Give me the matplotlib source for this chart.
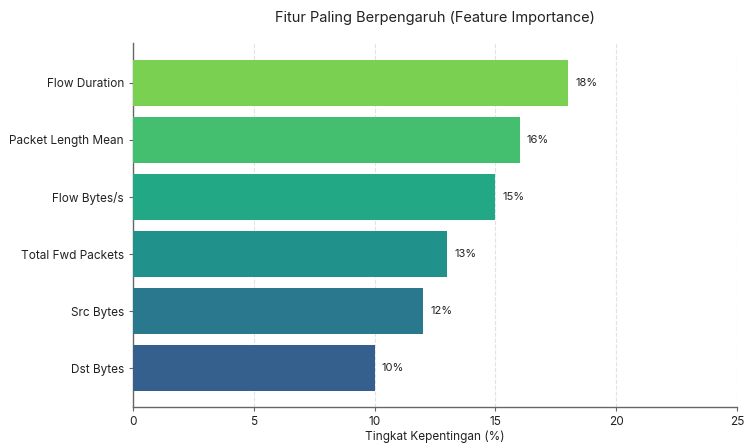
import matplotlib
matplotlib.use("Agg")
import matplotlib.pyplot as plt

features = ["Flow Duration", "Packet Length Mean", "Flow Bytes/s",
            "Total Fwd Packets", "Src Bytes", "Dst Bytes"]
importance = [18, 16, 15, 13, 12, 10]
colors = ["#7ad151", "#44bf70", "#22a884", "#21918c", "#2a788e", "#355f8d"]
xticks = [0, 5, 10, 15, 20, 25]

plt.rcParams['font.family'] = ['Inter', 'DejaVu Sans']

fig = plt.figure(figsize=(7.44, 4.44), dpi=100)
ax = fig.add_axes([133/744, 1 - 407/444, (737-133)/744, (407-43)/444])

ypos = list(range(len(features)))[::-1]
ax.barh(ypos, importance, height=0.8, color=colors, zorder=3)
for y, v in zip(ypos, importance):
    ax.text(v + 0.3, y, f"{v}%", va="center", ha="left", fontsize=8, color="#222222")

ax.set_yticks(ypos)
ax.set_yticklabels(features, fontsize=8.5, color="#222222")
ax.set_xticks(xticks)
ax.set_xticklabels([str(t) for t in xticks], fontsize=8.5, color="#222222")
ax.set_xlim(0, 25)
ax.set_ylim(-0.68, 5.70)
ax.grid(axis="x", linestyle="--", color="#e2e2e2", linewidth=0.8, zorder=0)
ax.spines["top"].set_visible(False)
ax.spines["right"].set_visible(False)
for s in ("left", "bottom"):
    ax.spines[s].set_color("#666666")
    ax.spines[s].set_linewidth(1.0)
ax.tick_params(axis="both", colors="#666666", labelcolor="#222222", length=3)
ax.set_xlabel("Tingkat Kepentingan (%)", fontsize=8.5, color="#222222", labelpad=2)
fig.text((133+737)/2/744, 1 - 18/444, "Fitur Paling Berpengaruh (Feature Importance)",
         ha="center", va="center", fontsize=10.5, color="#222222")

fig.savefig("out.png", dpi=100, facecolor="white")
